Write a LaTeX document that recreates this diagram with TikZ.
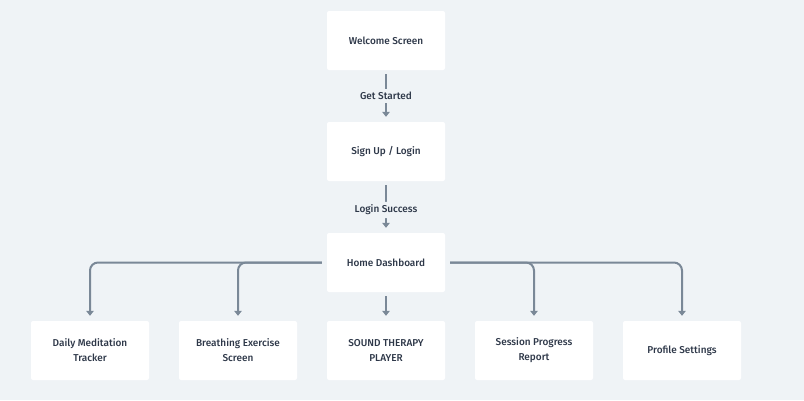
\documentclass[tikz,border=0pt]{standalone}
\usepackage{fontspec}
\setmainfont{Fira Sans}[UprightFont={* Medium}]
\usetikzlibrary{arrows.meta}
\definecolor{bgc}{HTML}{EFF3F6}
\definecolor{linec}{HTML}{7A8897}
\definecolor{txtc}{HTML}{2D3748}
\begin{document}
\begin{tikzpicture}[x=1pt,y=-1pt,
  box/.style={fill=white, rounded corners=2pt, minimum width=118pt, minimum height=59pt, inner sep=0pt,
    font=\fontsize{10}{15}\selectfont, text=txtc, align=center},
  conn/.style={draw=linec, line width=2pt, -{Triangle[length=5pt,width=7.5pt]}, shorten >=5pt, rounded corners=8pt},
  lbl/.style={fill=bgc, font=\fontsize{10}{12}\selectfont, text=txtc, inner sep=3pt}]
\fill[bgc] (0,0) rectangle (804,400);
\useasboundingbox (0,0) rectangle (804,400);
\node[box] (ws) at (386,40.5) {Welcome Screen};
\node[box] (su) at (386,151.5) {Sign Up / Login};
\node[box] (hd) at (386,262.5) {Home Dashboard};
\node[box] (b1) at (90,350.5) {Daily Meditation\\Tracker};
\node[box] (b2) at (238,350.5) {Breathing Exercise\\Screen};
\node[box] (b3) at (386,350.5) {SOUND THERAPY\\PLAYER};
\node[box] (b4) at (534,350.5) {Session Progress\\Report};
\node[box] (b5) at (682,350.5) {Profile Settings};
\draw[conn, shorten <=4pt] (ws) -- node[lbl] {Get Started} (su);
\draw[conn, shorten <=4pt] (su) -- node[lbl, yshift=-3pt] {Login Success} (hd);
\draw[conn, shorten <=4pt] (hd) -- (b3);
\coordinate (hl) at ([xshift=-5pt]hd.west);
\coordinate (hr) at ([xshift=5pt]hd.east);
\draw[conn] (hl) -| (b1.north);
\draw[conn] (hl) -| (b2.north);
\draw[conn] (hr) -| (b4.north);
\draw[conn] (hr) -| (b5.north);
\end{tikzpicture}
\end{document}
